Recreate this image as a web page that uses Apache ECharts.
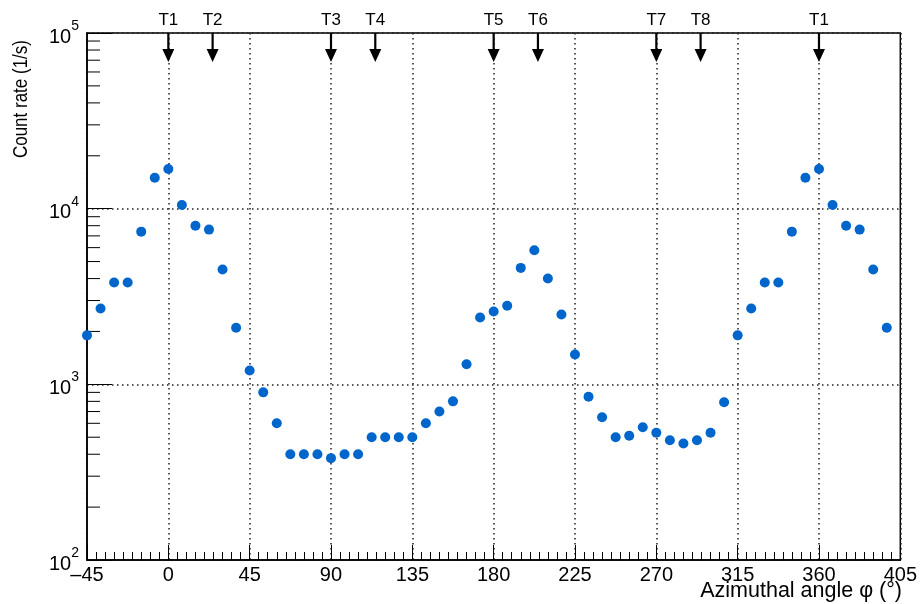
<!DOCTYPE html>
<html>
<head>
<meta charset="utf-8">
<script src="https://cdn.jsdelivr.net/npm/echarts@6/dist/echarts.min.js"></script>
<style>
  html, body { margin: 0; padding: 0; background: #fff; }
  #chart { width: 920px; height: 604px; }
</style>
</head>
<body>
<div id="chart"></div>
<script>
// azimuthal angle of each measurement (deg)
const angles = [
  -45, -37.5, -30, -22.5, -15, -7.5, 0, 7.5, 15, 22.5, 30, 37.5,
  45, 52.5, 60, 67.5, 75, 82.5, 90, 97.5, 105, 112.5, 120, 127.5,
  135, 142.5, 150, 157.5, 165, 172.5, 180, 187.5, 195, 202.5, 210, 217.5,
  225, 232.5, 240, 247.5, 255, 262.5, 270, 277.5, 285, 292.5, 300, 307.5,
  315, 322.5, 330, 337.5, 345, 352.5, 360, 367.5, 375, 382.5, 390, 397.5
];
// count rate (1/s)
const rates = [
  1900, 2700, 3800, 3800, 7400, 15000, 16800, 10500, 8000, 7600, 4500, 2100,
  1200, 900, 600, 400, 400, 400, 380, 400, 400, 500, 500, 500,
  500, 600, 700, 800, 1300, 2400, 2600, 2800, 4600, 5800, 4000, 2500,
  1480, 850, 650, 500, 510, 570, 530, 480, 460, 480, 530, 790,
  1900, 2700, 3800, 3800, 7400, 15000, 16800, 10500, 8000, 7600, 4500, 2100
];
// position markers drawn as arrows at the top
const markerAngles = [0, 24.5, 90, 114.5, 180, 204.5, 270, 294.5, 360];
const markerLabels = ['T1', 'T2', 'T3', 'T4', 'T5', 'T6', 'T7', 'T8', 'T1'];
// log axis minor ticks
const yMinorTicks = [
  200, 300, 400, 500, 600, 700, 800, 900,
  2000, 3000, 4000, 5000, 6000, 7000, 8000, 9000,
  20000, 30000, 40000, 50000, 60000, 70000, 80000, 90000
];

const FONT = '"Liberation Sans", Arial, Helvetica, sans-serif';
const X_MIN = -45, X_MAX = 405, Y_MIN = 100, Y_MAX = 100000;

const chart = echarts.init(document.getElementById('chart'));

const gridLine = { show: true, lineStyle: { color: '#222', width: 1.5, type: [1.5, 3.5] } };

const option = {
  animation: false,
  backgroundColor: '#fff',
  grid: {
    left: 87, right: 18, top: 33, bottom: 44,
    show: true, borderColor: '#000', borderWidth: 1.5, backgroundColor: 'transparent'
  },
  xAxis: {
    type: 'value',
    min: X_MIN, max: X_MAX, interval: 45,
    axisLine: { onZero: false, lineStyle: { color: '#000', width: 1.5 } },
    axisTick: { inside: true, length: 15, lineStyle: { color: '#000', width: 1 } },
    minorTick: { show: true, splitNumber: 9, length: 8, lineStyle: { color: '#000', width: 1 } },
    axisLabel: {
      color: '#000', fontSize: 20, fontFamily: FONT, margin: 5,
      showMinLabel: true, showMaxLabel: true,
      formatter: v => v < 0 ? '\u2013' + (-v) : String(v)
    },
    splitLine: gridLine
  },
  yAxis: {
    type: 'log', logBase: 10,
    min: Y_MIN, max: Y_MAX,
    axisLine: { onZero: false, lineStyle: { color: '#000', width: 1.5 } },
    axisTick: { inside: true, length: 25, lineStyle: { color: '#000', width: 1 } },
    axisLabel: {
      margin: 8,
      formatter: v => '{b|10}{s|' + Math.round(Math.log10(v)) + '}',
      rich: {
        b: { fontSize: 20, fontFamily: FONT, color: '#000', lineHeight: 28, verticalAlign: 'bottom' },
        s: { fontSize: 14, fontFamily: FONT, color: '#000', lineHeight: 14, verticalAlign: 'top' }
      }
    },
    splitLine: gridLine
  },
  series: [
    {
      // minor ticks of the log axis
      type: 'custom',
      silent: true,
      data: yMinorTicks.map(v => [X_MIN, v]),
      renderItem: (params, api) => {
        const p = api.coord([X_MIN, api.value(1)]);
        return {
          type: 'line',
          shape: { x1: p[0], y1: p[1], x2: p[0] + 13, y2: p[1] },
          style: { stroke: '#000', lineWidth: 1 }
        };
      },
      z: 3
    },
    {
      type: 'scatter',
      data: angles.map((a, i) => [a, rates[i]]),
      symbol: 'circle',
      symbolSize: 10,
      itemStyle: { color: '#0066cc', opacity: 1 },
      z: 5
    },
    {
      // marker arrows with labels above the frame
      type: 'custom',
      silent: true,
      clip: false,
      data: markerAngles.map(a => [a, Y_MAX]),
      renderItem: (params, api) => {
        const p = api.coord([api.value(0), Y_MAX]);
        const x = p[0], y = p[1];
        return {
          type: 'group',
          children: [
            { type: 'line', shape: { x1: x, y1: y, x2: x, y2: y + 18 }, style: { stroke: '#000', lineWidth: 2.2 } },
            { type: 'polygon', shape: { points: [[x - 6, y + 16], [x + 6, y + 16], [x, y + 29]] }, style: { fill: '#000' } },
            {
              type: 'text',
              style: {
                x: x, y: y - 13,
                text: markerLabels[params.dataIndex],
                align: 'center', verticalAlign: 'middle',
                fontSize: 17, fontFamily: FONT, fill: '#000'
              }
            }
          ]
        };
      },
      z: 6
    }
  ],
  graphic: [
    {
      type: 'text',
      x: 22, y: 40,
      rotation: Math.PI / 2,
      scaleY: 1.15,
      style: {
        text: 'Count rate (1/s)',
        align: 'right', verticalAlign: 'middle',
        fontSize: 17, fontFamily: FONT, fill: '#000'
      }
    },
    {
      type: 'text',
      right: 18, top: 580,
      style: {
        text: 'Azimuthal angle \u03c6 (\u00b0)',
        fontSize: 21.5, fontFamily: FONT, fill: '#000'
      }
    }
  ]
};

chart.setOption(option);
window.addEventListener('resize', () => chart.resize());
</script>
</body>
</html>
